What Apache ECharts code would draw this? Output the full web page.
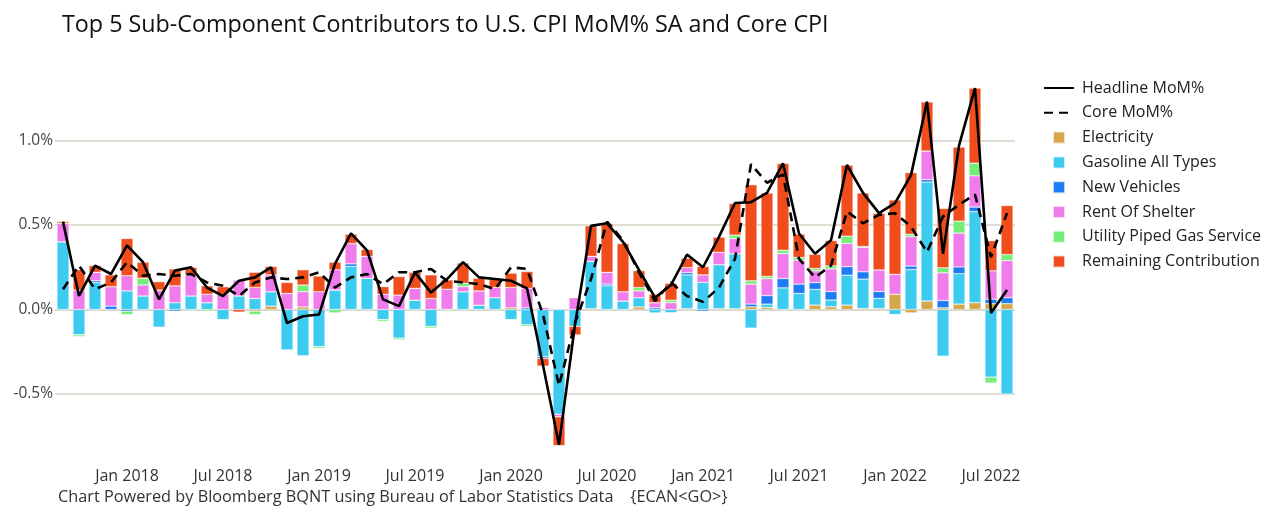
<!DOCTYPE html>
<html>
<head>
<meta charset="utf-8">
<script src="https://cdn.jsdelivr.net/npm/echarts@6/dist/echarts.min.js"></script>
<style>
html,body{margin:0;padding:0;background:#fff;}
#chart{width:1280px;height:517px;}
</style>
</head>
<body>
<div id="chart"></div>
<script>
const months = [
 'Sep 2017','Oct 2017','Nov 2017','Dec 2017',
 'Jan 2018','Feb 2018','Mar 2018','Apr 2018','May 2018','Jun 2018','Jul 2018','Aug 2018','Sep 2018','Oct 2018','Nov 2018','Dec 2018',
 'Jan 2019','Feb 2019','Mar 2019','Apr 2019','May 2019','Jun 2019','Jul 2019','Aug 2019','Sep 2019','Oct 2019','Nov 2019','Dec 2019',
 'Jan 2020','Feb 2020','Mar 2020','Apr 2020','May 2020','Jun 2020','Jul 2020','Aug 2020','Sep 2020','Oct 2020','Nov 2020','Dec 2020',
 'Jan 2021','Feb 2021','Mar 2021','Apr 2021','May 2021','Jun 2021','Jul 2021','Aug 2021','Sep 2021','Oct 2021','Nov 2021','Dec 2021',
 'Jan 2022','Feb 2022','Mar 2022','Apr 2022','May 2022','Jun 2022','Jul 2022','Aug 2022'
];
const electricity = [
 0,0,0,0,0,0,0,0,0,0,
 0,0,-0.01,0.02,0,0.015,0,0,0,0,
 0,0,0,0,0,0,0,0,0.01,0,
 0,0,0,0.005,0,0,0.015,0,0,0.005,
 0,0.005,0.005,0.016,0.012,0,0,0.026,0.016,0.026,
 0.006,0.006,0.09,-0.02,0.05,0.01,0.032,0.04,0.035,0.035
];
const gasoline = [
 0.40,-0.15,0.16,0,0.11,0.08,-0.105,0.04,0.08,0.04,
 -0.06,0.08,0.065,0.085,-0.24,-0.275,-0.22,0.115,0.255,0.185,
 -0.06,-0.17,0.055,-0.1,0,0.105,0.025,0.07,-0.06,-0.09,
 -0.28,-0.62,-0.1,0.28,0.14,0.05,0.055,-0.02,-0.02,0.2,
 0.16,0.26,0.325,-0.11,0.02,0.128,0.095,0.093,0.04,0.177,
 0.174,0.06,-0.03,0.237,0.704,-0.276,0.18,0.54,-0.4,-0.5
];
const newVehicles = [
 0,0,0.01,0.02,-0.01,0,0,-0.01,0,0,
 0,0,0,0,0,0,0,0,0.015,0,
 0,0,0,0,0,0,0,0,0,0.01,
 -0.01,0,0,0,0.01,0,0,0.01,0,0.013,
 -0.01,0,0,0.016,0.05,0.055,0.055,0.04,0.05,0.05,
 0.043,0.04,0,0.02,0.014,0.043,0.04,0.026,0.026,0.035
];
const rentOfShelter = [
 0.11,0.115,0.05,0.115,0.09,0.065,0.115,0.1,0.125,0.05,
 0.09,0.095,0.065,0.1,0.095,0.09,0.105,0.12,0.12,0.13,
 0.09,0.085,0.07,0.065,0.12,0.03,0.085,0.06,0.12,0.115,
 0.012,-0.015,0.07,0.03,0.07,0.055,0.04,0.03,0.04,0.03,
 0.045,0.073,0.09,0.118,0.1,0.148,0.142,0.07,0.134,0.138,
 0.144,0.128,0.118,0.174,0.17,0.164,0.2,0.185,0.168,0.22
];
const utilityGas = [
 0,-0.01,0,0,-0.02,0.04,0,0,0,-0.01,
 0,0,-0.02,0,0,0.04,-0.01,-0.02,0,0,
 -0.01,-0.01,0,-0.01,-0.008,0.02,0,0,0,-0.01,
 0,0,0,0,0,0,0.02,0,0.015,0,
 0,0,0.02,0.02,0.014,0.02,0.016,0.014,0.018,0.043,
 0.006,0,0,0.014,0,0.03,0.071,0.075,-0.035,0.035
];
const remaining = [
 0.01,0.12,0.04,0.07,0.22,0.095,0.05,0.1,0.045,0.05,
 0.045,-0.015,0.09,0.05,0.065,0.09,0.093,0.045,0.055,0.04,
 0.045,0.11,0.095,0.14,0.055,0.12,0.075,0.048,0.085,0.1,
 -0.045,-0.17,-0.05,0.18,0.285,0.285,0.1,0.05,0.1,0.055,
 0.05,0.09,0.187,0.568,0.493,0.513,0.138,0.083,0.15,0.42,
 0.316,0.335,0.44,0.365,0.29,0.351,0.438,0.444,0.178,0.29
];
const headline = [
 0.52,0.08,0.26,0.21,0.38,0.28,0.06,0.23,0.25,0.13,
 0.08,0.17,0.19,0.25,-0.08,-0.04,-0.03,0.27,0.45,0.35,
 0.06,0.02,0.22,0.1,0.18,0.28,0.19,0.18,0.17,0.125,
 -0.33,-0.8,-0.09,0.495,0.51,0.4,0.235,0.07,0.145,0.325,
 0.25,0.43,0.63,0.635,0.69,0.865,0.45,0.33,0.41,0.855,
 0.69,0.57,0.63,0.795,1.23,0.33,0.97,1.31,-0.02,0.115
];
const core = [
 0.12,0.26,0.12,0.16,0.28,0.2,0.21,0.2,0.21,0.16,
 0.14,0.08,0.16,0.19,0.18,0.19,0.22,0.13,0.19,0.21,
 0.15,0.22,0.22,0.24,0.17,0.16,0.15,0.12,0.25,0.24,
 -0.03,-0.45,-0.08,0.18,0.52,0.41,0.22,0.05,0.16,0.08,
 0.045,0.13,0.3,0.86,0.75,0.8,0.3,0.19,0.26,0.58,
 0.51,0.56,0.57,0.49,0.34,0.55,0.62,0.68,0.31,0.57
];
const yTicks = [-1.0, -0.5, 0.0, 0.5, 1.0, 1.5];
const shownTicks = [-0.5, 0.0, 0.5, 1.0];

const FONT = 'Open Sans';
const barSeries = [
 {name:'Electricity', data:electricity, color:'#D6A64B'},
 {name:'Gasoline All Types', data:gasoline, color:'#3ECBF0'},
 {name:'New Vehicles', data:newVehicles, color:'#1E7BF3'},
 {name:'Rent Of Shelter', data:rentOfShelter, color:'#F07CEC'},
 {name:'Utility Piped Gas Service', data:utilityGas, color:'#74EE78'},
 {name:'Remaining Contribution', data:remaining, color:'#EF4D1C'}
];
const square = 'path://M0,0h10v10h-10z';

const series = barSeries.map(s => ({
  name: s.name, type: 'bar', stack: 'c', stackStrategy: 'samesign',
  data: s.data, barWidth: 12,
  itemStyle: {color: s.color, borderColor: 'rgba(255,255,255,0.7)', borderWidth: 0.5},
  emphasis: {disabled: true}
}));
series.push({
  name: 'Headline MoM%', type: 'line', data: headline, symbol: 'none', z: 10,
  lineStyle: {color: '#000', width: 2.6}, itemStyle: {color: '#000'}
});
series.push({
  name: 'Core MoM%', type: 'line', data: core, symbol: 'none', z: 9,
  lineStyle: {color: '#000', width: 2.6, type: [9, 6]}, itemStyle: {color: '#000'}
});

const chart = echarts.init(document.getElementById('chart'), null, {renderer: 'canvas'});
chart.setOption({
  animation: false,
  backgroundColor: '#fff',
  title: [
    {text: 'Top 5 Sub-Component Contributors to U.S. CPI MoM% SA and Core CPI', left: 57, top: 9,
     textStyle: {fontFamily: FONT, fontSize: 23.3, fontWeight: 'normal', color: '#111'}},
    {text: 'Chart Powered by Bloomberg BQNT using Bureau of Labor Statistics Data    {ECAN<GO>}', left: 53, top: 484,
     textStyle: {fontFamily: FONT, fontSize: 16.3, fontWeight: 'normal', color: '#333'}}
  ],
  legend: {
    orient: 'vertical', left: 1038, top: 75, itemWidth: 30, itemHeight: 12, itemGap: 8.8,
    textStyle: {fontFamily: FONT, fontSize: 16, color: '#222', padding: [0,0,0,3]},
    data: [
      {name: 'Headline MoM%', itemStyle: {opacity: 0}},
      {name: 'Core MoM%', itemStyle: {opacity: 0}},
      ...barSeries.map(s => ({name: s.name, icon: square}))
    ]
  },
  grid: {left: 55, width: 960, top: 56, height: 422.5, containLabel: false},
  xAxis: {
    type: 'category', data: months, offset: -17,
    axisLine: {show: false}, axisTick: {show: false},
    axisLabel: {
      interval: (i, v) => v.startsWith('Jan') || v.startsWith('Jul'),
      formatter: v => v,
      fontFamily: FONT, fontSize: 16, color: '#333', margin: 7
    },
    splitLine: {show: false}
  },
  yAxis: {
    type: 'value', min: yTicks[0], max: yTicks[yTicks.length - 1], interval: 0.5,
    axisLine: {show: false}, axisTick: {show: false},
    axisLabel: {
      formatter: v => shownTicks.some(t => Math.abs(t - v) < 1e-9) ? v.toFixed(1) + '%' : '',
      fontFamily: FONT, fontSize: 15.5, color: '#444', margin: 2
    },
    splitLine: {show: true, lineStyle: {color: ['rgba(0,0,0,0)', '#D6D2C7', '#CFCBC0', '#D6D2C7', '#D6D2C7', 'rgba(0,0,0,0)'], width: 1.5}}
  },
  series: series
});
</script>
</body>
</html>
